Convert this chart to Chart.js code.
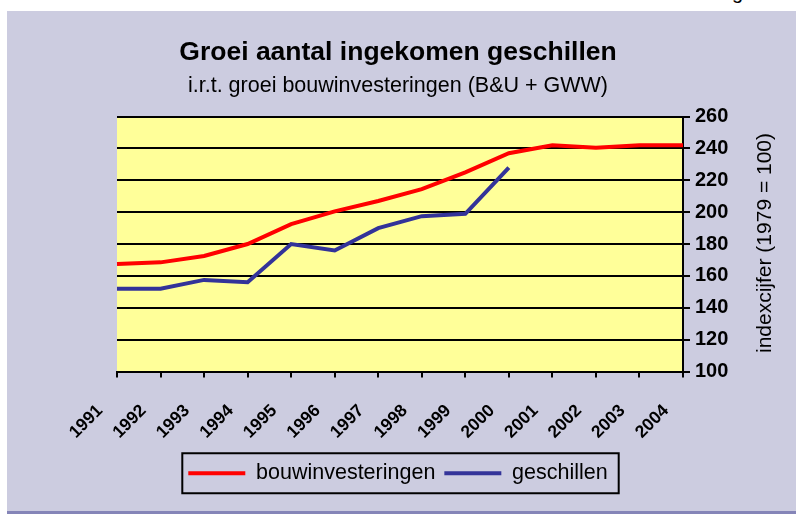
<!DOCTYPE html>
<html>
<head>
<meta charset="utf-8">
<title>Groei aantal ingekomen geschillen</title>
<script src="https://cdn.jsdelivr.net/npm/chart.js@4.4.1/dist/chart.umd.min.js"></script>
<style>
  body { margin: 0; background: #fff; overflow: hidden; font-family: Arial, "Liberation Sans", sans-serif; }
  #frame { position: absolute; left: 7px; top: 11px; width: 789px; height: 500px; background: #cccce0; border-bottom: 3px solid #8585b8; }
  #pagetext { position: absolute; left: 732px; top: -18px; font-size: 20px; line-height: 20px; color: #000; }
  #wrap { position: absolute; left: 0; top: 0; width: 796px; height: 514px; }
</style>
</head>
<body>
<div id="pagetext">g</div>
<div id="frame"></div>
<div id="wrap"><canvas id="groeiChart"></canvas></div>
<script>
// ====================== Data ======================
const years = ["1991", "1992", "1993", "1994", "1995", "1996", "1997",
               "1998", "1999", "2000", "2001", "2002", "2003", "2004"];
const bouwinvesteringen = [167.5, 168.5, 172.5, 180, 192.5, 200.5, 207, 214.5, 225, 237, 242, 240.5, 242, 242];
const geschillen = [152, 152, 157.5, 156, 180, 176, 190, 197.5, 199, 228, null, null, null, null];
const yMin = 100;
const yMax = 260;
const yStep = 20;

Chart.defaults.font.family = 'Arial, "Liberation Sans", sans-serif';
Chart.defaults.color = "#000";

// yellow plot area
const plotBackground = {
  id: "plotBackground",
  beforeDraw(chart) {
    const { ctx, chartArea: a } = chart;
    ctx.save();
    ctx.fillStyle = "#ffff99";
    ctx.fillRect(a.left, a.top, a.right - a.left, a.bottom - a.top);
    ctx.restore();
  }
};

// y title (reads bottom to top) + border round the legend
const extras = {
  id: "extras",
  afterDraw(chart) {
    const ctx = chart.ctx;
    ctx.save();
    ctx.translate(765, 243);
    ctx.rotate(-Math.PI / 2);
    ctx.font = '21px Arial, "Liberation Sans", sans-serif';
    ctx.fillStyle = "#000";
    ctx.textAlign = "center";
    ctx.textBaseline = "middle";
    ctx.fillText("indexcijfer (1979 = 100)", 0, 0);
    ctx.restore();

    const boxes = chart.legend.legendHitBoxes;
    if (!boxes || !boxes.length) return;
    const first = boxes[0];
    const last = boxes[boxes.length - 1];
    const cy = first.top + first.height / 2;
    ctx.save();
    ctx.strokeStyle = "#000";
    ctx.lineWidth = 2;
    ctx.strokeRect(first.left - 6, cy - 20, last.left + last.width + 11 - (first.left - 6), 40);
    ctx.restore();
  }
};

new Chart(document.getElementById("groeiChart"), {
  type: "line",
  data: {
    labels: years,
    datasets: [
      {
        label: "bouwinvesteringen",
        data: bouwinvesteringen,
        yAxisID: "y",
        borderColor: "#ff0000",
        backgroundColor: "#ff0000",
        borderWidth: 4,
        pointRadius: 0,
        tension: 0
      },
      {
        label: "geschillen",
        data: geschillen,
        yAxisID: "y",
        borderColor: "#333399",
        backgroundColor: "#333399",
        borderWidth: 4,
        pointRadius: 0,
        tension: 0,
        spanGaps: false
      }
    ]
  },
  options: {
    responsive: true,
    maintainAspectRatio: false,
    animation: false,
    layout: { padding: { left: 0, right: 0, top: 0, bottom: 20 } },
    plugins: {
      title: {
        display: true,
        text: "Groei aantal ingekomen geschillen",
        font: { size: 26.5, weight: "bold" },
        padding: { top: 37, bottom: 0 }
      },
      subtitle: {
        display: true,
        text: "i.r.t. groei bouwinvesteringen (B&U + GWW)",
        font: { size: 21.5 },
        color: "#000",
        padding: { top: 4, bottom: 18 }
      },
      legend: {
        position: "bottom",
        labels: {
          usePointStyle: true,
          pointStyle: "line",
          pointStyleWidth: 57,
          padding: 9,
          font: { size: 21.5 },
          color: "#000"
        }
      },
      tooltip: { enabled: false }
    },
    scales: {
      x: {
        offset: false,
        grid: { display: true, drawOnChartArea: false, color: "#000", lineWidth: 2, tickLength: 6 },
        border: { display: true, color: "#000", width: 2 },
        ticks: {
          autoSkip: false,
          minRotation: 45,
          maxRotation: 45,
          labelOffset: -17,
          padding: 23,
          font: { size: 17.5, weight: "bold" }
        },
        afterFit: scale => { scale.height = 82; }
      },
      // empty left strip, keeps the plot where it is while titles stay centred
      spacer: {
        type: "linear",
        axis: "y",
        position: "left",
        grid: { display: false },
        border: { display: false },
        ticks: { display: false },
        afterFit: scale => { scale.width = 117; }
      },
      y: {
        position: "right",
        min: yMin,
        max: yMax,
        grid: { color: "#000", lineWidth: 2, tickLength: 7 },
        border: { display: true, color: "#000", width: 2 },
        ticks: {
          stepSize: yStep,
          padding: 5,
          font: { size: 20, weight: "bold" }
        },
        afterFit: scale => { scale.width = 113; }
      }
    }
  },
  plugins: [plotBackground, extras]
});
</script>
</body>
</html>
